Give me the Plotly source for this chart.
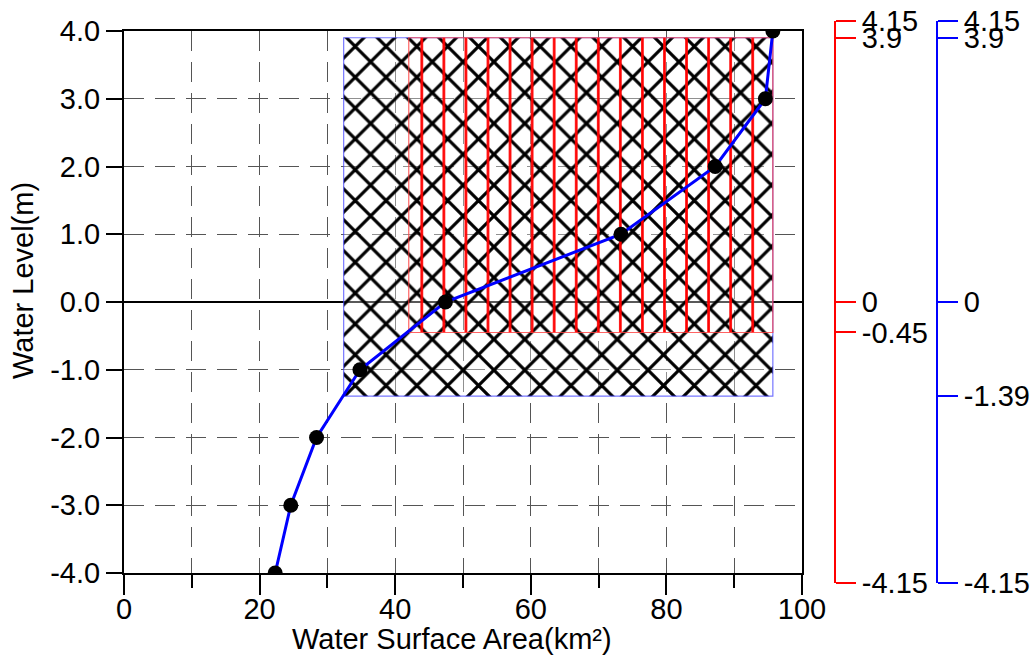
import plotly.graph_objects as go

# ---- data ----
levels = [-4, -3, -2, -1, 0, 1, 2, 3, 4]
areas = [22.3, 24.6, 28.4, 34.8, 47.4, 73.3, 87.2, 94.6, 95.7]

# hatched regions (area range, level range)
blue_box_x = [32.4, 95.7]
blue_box_y = [-1.39, 3.9]
red_box_x = [42.0, 95.7]
red_box_y = [-0.45, 3.9]

x_ticks = [0, 20, 40, 60, 80, 100]
y_ticks = [-4, -3, -2, -1, 0, 1, 2, 3, 4]
y_labels = [f"{v:.1f}" for v in y_ticks]
red_ticks = [4.15, 3.9, 0, -0.45, -4.15]
red_labels = ["4.15", "3.9", "0", "-0.45", "-4.15"]
blue_ticks = [4.15, 3.9, 0, -1.39, -4.15]
blue_labels = ["4.15", "3.9", "0", "-1.39", "-4.15"]

FONT = "Liberation Sans, Arial, sans-serif"
TICK_SIZE = 29
TITLE_SIZE = 29


def rect(xr, yr):
    return ([xr[0], xr[1], xr[1], xr[0], xr[0]],
            [yr[0], yr[0], yr[1], yr[1], yr[0]])


fig = go.Figure()

bx, by = rect(blue_box_x, blue_box_y)
fig.add_trace(go.Scatter(
    x=bx, y=by, mode="lines", fill="toself",
    line=dict(color="rgba(60,60,255,0.7)", width=1.2),
    fillcolor="white",
    fillpattern=dict(shape="x", size=21.8, solidity=0.27, fgcolor="black",
                     fgopacity=1, bgcolor="rgba(255,255,255,0.35)"),
    hoverinfo="skip", showlegend=False))

rx, ry = rect(red_box_x, red_box_y)
fig.add_trace(go.Scatter(
    x=rx, y=ry, mode="lines", fill="toself",
    line=dict(color="rgba(255,60,60,0.8)", width=1.2),
    fillcolor="white",
    fillpattern=dict(shape="|", size=22.06, solidity=0.12, fgcolor="red",
                     fgopacity=1, bgcolor="rgba(255,255,255,0)"),
    hoverinfo="skip", showlegend=False))

fig.add_trace(go.Scatter(
    x=areas, y=levels, mode="lines+markers",
    line=dict(color="blue", width=3),
    marker=dict(color="black", size=15),
    showlegend=False))

# invisible carriers so the two extra right-hand axes get drawn
for ya in ("y2", "y3"):
    fig.add_trace(go.Scatter(x=[0], y=[0], xaxis="x2", yaxis=ya, mode="markers",
                             marker=dict(opacity=0), hoverinfo="skip",
                             showlegend=False))

W, H = 1034, 659
ml, mr = 124, 97
mt = 21
mb = H - 583
pw = W - ml - mr
ph = H - mt - mb
x_right = 802
red_px = 835
blue_px = 937
y_top, y_bot = 31, 573


def px_x(p):
    return (p - ml) / pw


def px_y(p):
    return (H - mb - p) / ph


grid_dash = "20px,11px"
xdom = [0, px_x(x_right)]

fig.update_layout(
    width=W, height=H,
    margin=dict(l=ml, r=mr, t=mt, b=mb, pad=0, autoexpand=False),
    paper_bgcolor="white", plot_bgcolor="white",
    font=dict(family=FONT, size=TICK_SIZE, color="black"),
    xaxis=dict(
        domain=xdom, automargin=False,
        range=[0, 100], tickvals=x_ticks,
        ticks="outside", ticklen=20, tickwidth=2, tickcolor="black",
        ticklabelstandoff=-11,
        showline=True, linecolor="black", linewidth=2, mirror=True,
        showgrid=True, gridcolor="#555", gridwidth=1, griddash=grid_dash,
        zeroline=False,
        minor=dict(dtick=10, ticks="outside", ticklen=13, tickwidth=2,
                   tickcolor="black", showgrid=True, gridcolor="#555",
                   gridwidth=1, griddash=grid_dash),
        tickfont=dict(size=TICK_SIZE),
    ),
    xaxis2=dict(domain=[px_x(red_px + 8), px_x(red_px + 12)], range=[0, 1],
                visible=False, anchor="y2",
                showgrid=False, zeroline=False, automargin=False),
    yaxis=dict(
        domain=[px_y(y_bot), px_y(y_top)], automargin=False,
        range=[-4, 4], tickvals=y_ticks, ticktext=y_labels,
        ticks="outside", ticklen=16, tickwidth=2, tickcolor="black",
        showline=True, linecolor="black", linewidth=2, mirror=True,
        showgrid=True, gridcolor="#555", gridwidth=1, griddash=grid_dash,
        zeroline=True, zerolinecolor="black", zerolinewidth=2,
        tickfont=dict(size=TICK_SIZE),
    ),
    yaxis2=dict(
        domain=[0, 1], range=[-4.15, 4.15], anchor="free", automargin=False,
        position=px_x(red_px), side="right", ticklabeloverflow="allow",
        tickvals=red_ticks, ticktext=red_labels,
        ticks="outside", ticklen=20, tickwidth=2, tickcolor="red",
        showline=True, linecolor="red", linewidth=2,
        showgrid=False, zeroline=False,
        tickfont=dict(size=TICK_SIZE, color="black"),
    ),
    yaxis3=dict(
        domain=[0, 1], range=[-4.15, 4.15], anchor="free", automargin=False,
        overlaying="y2", ticklabeloverflow="allow",
        position=px_x(blue_px), side="right",
        tickvals=blue_ticks, ticktext=blue_labels,
        ticks="outside", ticklen=20, tickwidth=2, tickcolor="blue",
        showline=True, linecolor="blue", linewidth=2,
        showgrid=False, zeroline=False,
        tickfont=dict(size=TICK_SIZE, color="black"),
    ),
    annotations=[
        dict(text="Water Surface Area(km²)", xref="paper", yref="paper",
             x=px_x(452), y=px_y(639), xanchor="center", yanchor="middle",
             showarrow=False, font=dict(size=TITLE_SIZE, color="black")),
        dict(text="Water Level(m)", xref="paper", yref="paper", textangle=-90,
             x=px_x(23), y=px_y(281), xanchor="center", yanchor="middle",
             showarrow=False, font=dict(size=TITLE_SIZE, color="black")),
    ],
)

# remove the browser's default page margin so the figure sits at (0, 0)
fig.write_html("out.html", config={"displayModeBar": False},
               post_script="document.body.style.margin='0';")
